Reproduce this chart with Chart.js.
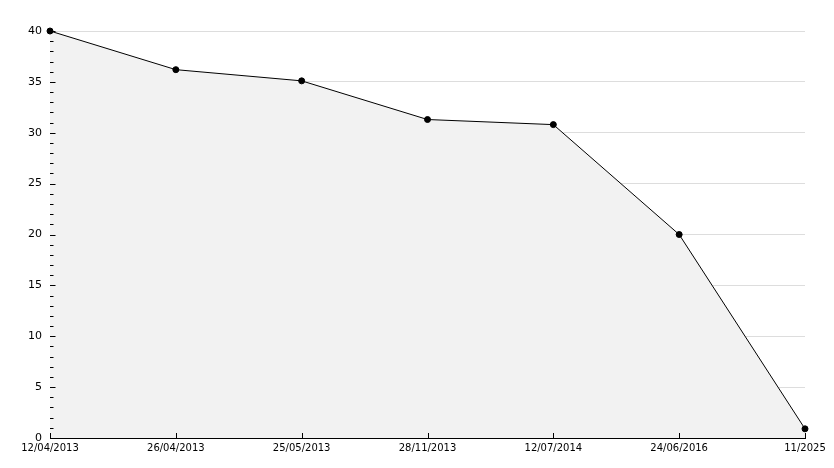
<!DOCTYPE html>
<html>
<head>
<meta charset="utf-8">
<script src="https://cdn.jsdelivr.net/npm/chart.js@4/dist/chart.umd.min.js"></script>
<style>
html,body{margin:0;padding:0;background:#fff;}
#wrap{width:834px;height:468px;position:relative;}
</style>
</head>
<body>
<div id="wrap"><canvas id="c" width="834" height="468"></canvas></div>
<script>
const categories = ["12/04/2013","26/04/2013","25/05/2013","28/11/2013","12/07/2014","24/06/2016","11/2025"];
const values = [40, 36.2, 35.1, 31.3, 30.8, 20, 0.9];
const yTickLabels = [0, 5, 10, 15, 20, 25, 30, 35, 40];

const innerTicks = {
  id: 'innerTicks',
  afterDatasetsDraw(chart) {
    const ctx = chart.ctx;
    const y = chart.scales.y, x = chart.scales.x;
    const left = Math.round(chart.chartArea.left), bottom = chart.chartArea.bottom;
    ctx.save();
    ctx.strokeStyle = '#000';
    ctx.lineWidth = 1;
    ctx.beginPath();
    for (let v = y.min; v <= y.max; v += 1) {
      const py = Math.round(y.getPixelForValue(v)) + 0.5;
      const len = (v % 5 === 0) ? 5 : 3;
      ctx.moveTo(left, py); ctx.lineTo(left + len + 0.5, py);
    }
    for (let i = 0; i < categories.length; i++) {
      const px = Math.round(x.getPixelForValue(i)) + 0.5;
      ctx.moveTo(px, bottom); ctx.lineTo(px, bottom - 5);
    }
    ctx.stroke();
    ctx.restore();
  }
};

new Chart(document.getElementById('c'), {
  type: 'line',
  data: {
    labels: categories,
    datasets: [{
      data: values,
      borderColor: '#000',
      borderWidth: 1,
      backgroundColor: '#f2f2f2',
      fill: 'origin',
      tension: 0,
      clip: false,
      pointRadius: 3,
      pointStyle: 'circle',
      pointBackgroundColor: '#000',
      pointBorderColor: '#000',
      pointBorderWidth: 1
    }]
  },
  options: {
    responsive: false,
    animation: false,
    events: [],
    layout: { padding: { top: 31, right: 29, left: 0, bottom: 0 } },
    plugins: { legend: { display: false }, tooltip: { enabled: false } },
    scales: {
      x: {
        type: 'category',
        offset: false,
        grid: { display: false, drawTicks: false },
        border: { display: true, color: '#000', width: 1 },
        ticks: {
          color: '#000', font: { family: 'DejaVu Sans', size: 10 },
          padding: 4, maxRotation: 0, autoSkip: false
        },
        afterFit(s) { s.height = 30; }
      },
      y: {
        min: 0, max: 40,
        grid: {
          drawTicks: false,
          color: (c) => (c.tick && c.tick.value % 5 === 0 && c.tick.value !== 0) ? '#dddddd' : 'rgba(0,0,0,0)',
          lineWidth: 1
        },
        border: { display: true, color: '#000', width: 1 },
        afterBuildTicks(s) { s.ticks = yTickLabels.map(v => ({ value: v })); },
        ticks: {
          color: '#000', font: { family: 'DejaVu Sans', size: 11 },
          padding: 8
        },
        afterFit(s) { s.width = 50; }
      }
    }
  },
  plugins: [innerTicks]
});
</script>
</body>
</html>
